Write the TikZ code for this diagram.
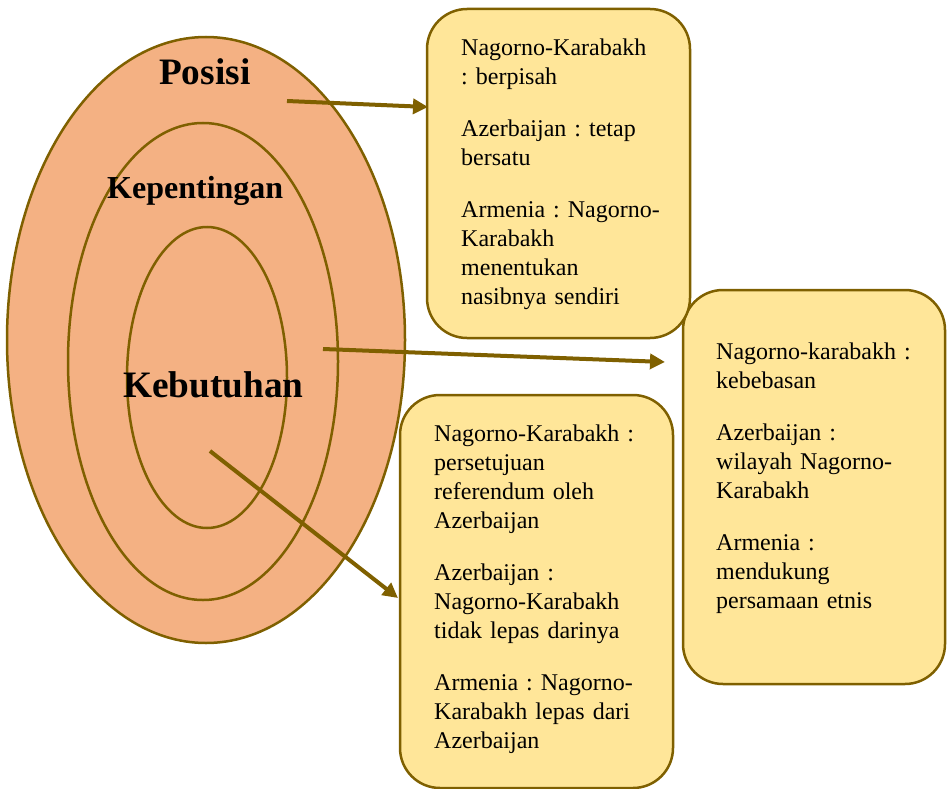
\documentclass[tikz,border=0pt]{standalone}
\usepackage{fontspec}
\setmainfont{Liberation Serif}
\usetikzlibrary{shapes.geometric,arrows.meta}
\definecolor{salmon}{HTML}{F4B183}
\definecolor{olive}{HTML}{7F6000}
\definecolor{butter}{HTML}{FFE699}
\frenchspacing

\begin{document}
\begin{tikzpicture}[x=1pt,y=-1pt]

  % Set default styles
  \tikzset{
    ring/.style={ellipse, draw=olive, fill=salmon, line width=2.5pt, inner sep=0pt},
    ringlabel/.style={anchor=base west, inner sep=0pt},
    card/.style={draw=olive, fill=butter, line width=2.5pt, rounded corners=40pt, inner sep=0pt},
    cardtext/.style={anchor=north west, align=left, text width=240pt, inner sep=0pt,
      font=\fontsize{24}{29}\selectfont},
    link/.style={draw=olive, line width=4pt, -{Triangle[length=15pt,width=15pt]}}
  }

  \useasboundingbox (0,0) rectangle (947,789);

  % Rings: Posisi, Kepentingan, Kebutuhan
  \node[ring, minimum width=398pt, minimum height=606pt] (outer_ring) at (206,340) {};
  \node[ring, minimum width=270pt, minimum height=477pt] (middle_ring) at (203,361.5) {};
  \node[ring, minimum width=160pt, minimum height=301pt] (inner_ring) at (207,377.5) {};

  \node[ringlabel, font=\fontsize{37.3}{44}\selectfont\bfseries] (posisi_label) at (159,85) {Posisi};
  \node[ringlabel, font=\fontsize{32}{38}\selectfont\bfseries] (kepentingan_label) at (107,198) {Kepentingan};
  \node[ringlabel, font=\fontsize{37.3}{44}\selectfont\bfseries] (kebutuhan_label) at (123,397) {Kebutuhan};

  % Card 2: Kepentingan
  \node[card, minimum width=262pt, minimum height=394pt] (card2) at (814,487) {};
  \node[cardtext] (card2_text) at (716,342.6) {Nagorno-karabakh :\\ kebebasan\\[23pt]
    Azerbaijan :\\ wilayah Nagorno-\\ Karabakh\\[23pt]
    Armenia :\\ mendukung\\ persamaan etnis};

  % Card 1: Posisi
  \node[card, minimum width=263pt, minimum height=329pt] (card1) at (558.5,173.5) {};
  \node[cardtext] (card1_text) at (461,38.6) {Nagorno-Karabakh\\ : berpisah\\[23pt]
    Azerbaijan : tetap\\ bersatu\\[23pt]
    Armenia : Nagorno-\\ Karabakh\\ menentukan\\ nasibnya sendiri};

  % Card 3: Kebutuhan
  \node[card, minimum width=273pt, minimum height=393pt] (card3) at (536.5,591.5) {};
  \node[cardtext] (card3_text) at (434,424.6) {Nagorno-Karabakh :\\ persetujuan\\ referendum oleh\\ Azerbaijan\\[23pt]
    Azerbaijan :\\ Nagorno-Karabakh\\ tidak lepas darinya\\[23pt]
    Armenia : Nagorno-\\ Karabakh lepas dari\\ Azerbaijan};

  % Links from rings to cards
  \coordinate (posisi_from) at (287,101);
  \coordinate (posisi_to) at (428,107);
  \coordinate (kepentingan_from) at (323,349);
  \coordinate (kepentingan_to) at (665,362);
  \coordinate (kebutuhan_from) at (210,451);
  \coordinate (kebutuhan_to) at (398,598);

  \draw[link] (posisi_from) -- (posisi_to);
  \draw[link] (kepentingan_from) -- (kepentingan_to);
  \draw[link] (kebutuhan_from) -- (kebutuhan_to);

\end{tikzpicture}
\end{document}
